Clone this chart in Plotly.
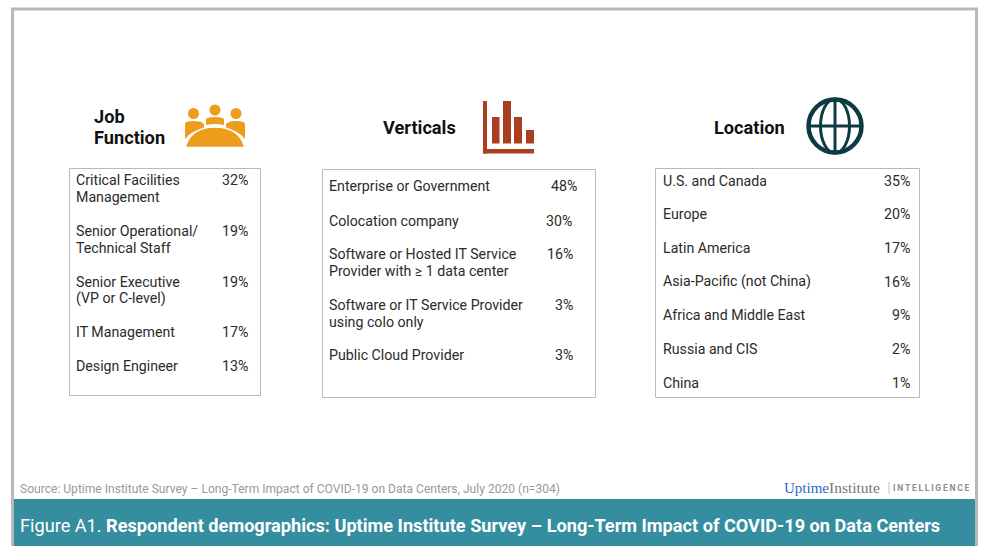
import plotly.graph_objects as go

FONT = "Roboto"
job_labels = ["Critical Facilities<br>Management", "Senior Operational/<br>Technical Staff",
              "Senior Executive<br>(VP or C-level)", "IT Management", "Design Engineer"]
job_values = ["32%", "19%", "19%", "17%", "13%"]
job_rows = [180, 230.5, 281.5, 332, 366]

vert_labels = ["Enterprise or Government", "Colocation company",
               "Software or Hosted IT Service<br>Provider with ≥ 1 data center",
               "Software or IT Service Provider<br>using colo only", "Public Cloud Provider"]
vert_values = ["48%", "30%", "16%", "3%", "3%"]
vert_rows = [186, 220.5, 253.5, 304.5, 355]
vert_right = [577, 572, 573, 573, 573]

loc_labels = ["U.S. and Canada", "Europe", "Latin America", "Asia-Pacific (not China)",
              "Africa and Middle East", "Russia and CIS", "China"]
loc_values = ["35%", "20%", "17%", "16%", "9%", "2%", "1%"]
loc_rows = [180.5, 214, 247.5, 281.5, 315, 349, 383]

SOURCE = "Source: Uptime Institute Survey – Long-Term Impact of COVID-19 on Data Centers, July 2020 (n=304)"
CAPTION = "Figure A1. <b>Respondent demographics: Uptime Institute Survey – Long-Term Impact of COVID-19 on Data Centers</b>"

shapes, notes = [], []

def text(x, y, s, size=14.2, color="#2b2b2b", anchor="left", family=FONT):
    notes.append(dict(x=x, y=y, xref="x", yref="y", text=s, showarrow=False, xanchor=anchor,
                      yanchor="middle", align=anchor, borderpad=0, borderwidth=0,
                      font=dict(family=family, size=size, color=color)))

def rect(x0, y0, x1, y1, fill="rgba(0,0,0,0)", line="rgba(0,0,0,0)", width=0):
    shapes.append(dict(type="rect", x0=x0, y0=y0, x1=x1, y1=y1, xref="x", yref="y",
                       fillcolor=fill, line=dict(color=line, width=width)))

def circle(cx, cy, rx, ry=None, fill="rgba(0,0,0,0)", line="rgba(0,0,0,0)", width=0):
    ry = rx if ry is None else ry
    shapes.append(dict(type="circle", x0=cx-rx, y0=cy-ry, x1=cx+rx, y1=cy+ry, xref="x", yref="y",
                       fillcolor=fill, line=dict(color=line, width=width)))

def path(d, fill="rgba(0,0,0,0)", line="rgba(0,0,0,0)", width=0):
    shapes.append(dict(type="path", path=d, xref="x", yref="y", fillcolor=fill,
                       line=dict(color=line, width=width)))

def table(box, labels, values, rows, xlabel, right):
    rect(*box, line="#b9b9b9", width=1)
    for i, (lab, val, y) in enumerate(zip(labels, values, rows)):
        for j, part in enumerate(lab.split("<br>")):
            text(xlabel, y + j * 17, part)
        r = right[i] if isinstance(right, list) else right
        text(r, y, val, anchor="right")

# frame and caption band
rect(12.5, 9, 976.5, 560, fill="white", line="#b8b8b8", width=3)
rect(14, 499, 975, 546, fill="#348e9f")

table((69.5, 168.5, 260.5, 395.5), job_labels, job_values, job_rows, 76, 248)
table((322.5, 169.5, 595.5, 397.5), vert_labels, vert_values, vert_rows, 329, vert_right)
table((655.5, 168.5, 919.5, 397.5), loc_labels, loc_values, loc_rows, 663, 910)

# headings
text(94, 116, "<b>Job</b>", size=18.2, color="#111111")
text(94, 137.5, "<b>Function</b>", size=18.2, color="#111111")
text(383, 127.5, "<b>Verticals</b>", size=18.2, color="#111111")
text(714, 127.5, "<b>Location</b>", size=18.2, color="#111111")

# people icon
ORANGE = "#ee9c1c"
for cx, cy in [(193.5, 113.5), (215, 110), (236, 113.5)]:
    circle(cx, cy, 5.5, fill=ORANGE)
path("M185,124 Q185,121 193,121 Q202,121 204,124 L204,129 Q192,130 185,139 Z", fill=ORANGE)
path("M206,119 Q208,117 215,117 Q222,117 224,119 L224,125 Q215,123 206,125 Z", fill=ORANGE)
path("M245,124 Q245,121 237,121 Q228,121 226,124 L226,129 Q238,130 245,139 Z", fill=ORANGE)
path("M185,147.5 Q191,127 215,127 Q239,127 245,147.5 Z", fill=ORANGE, line="white", width=1.5)

# bars icon
RUST = "#a93f1e"
rect(483, 101, 487, 153.5, fill=RUST)
rect(483, 149, 534, 153.5, fill=RUST)
rect(492, 117, 499.5, 143.5, fill=RUST)
rect(503, 101, 511, 143.5, fill=RUST)
rect(514, 117, 522, 143.5, fill=RUST)
rect(526, 130, 534, 143.5, fill=RUST)

# globe icon
DARK = "#0c3b42"
circle(835, 126, 26.5, fill="white", line=DARK, width=4.5)
circle(835, 126, 14.5, 27, line=DARK, width=3)
path("M835,99 L835,153", line=DARK, width=3)
path("M808,126 L862,126", line=DARK, width=3)

# footer
text(20, 488.5, SOURCE, size=12.07, color="#999999")
text(20, 525.5, CAPTION, size=18.16, color="white")
text(784, 487.5, "Uptime", size=15, color="#2a6bc0", family="Liberation Serif")
text(829, 487.5, "Institute", size=15.5, color="#777777", family="Liberation Serif")
shapes.append(dict(type="line", x0=889, x1=889, y0=482, y1=494, xref="x", yref="y",
                   line=dict(color="#c4c4c4", width=1)))
text(893, 488, "<b>" + "\u200a\u200a".join("INTELLIGENCE") + "</b>", size=8.5, color="#8c8c8c")

fig = go.Figure()
fig.update_layout(width=982, height=546, margin=dict(l=0, r=0, t=0, b=0), autosize=False,
                  paper_bgcolor="white", plot_bgcolor="white", showlegend=False,
                  shapes=shapes, annotations=notes,
                  xaxis=dict(range=[0, 982], visible=False, fixedrange=True),
                  yaxis=dict(range=[546, 0], visible=False, fixedrange=True))
fig.write_html("out.html", config=dict(displayModeBar=False),
               post_script="document.body.style.margin='0';")
